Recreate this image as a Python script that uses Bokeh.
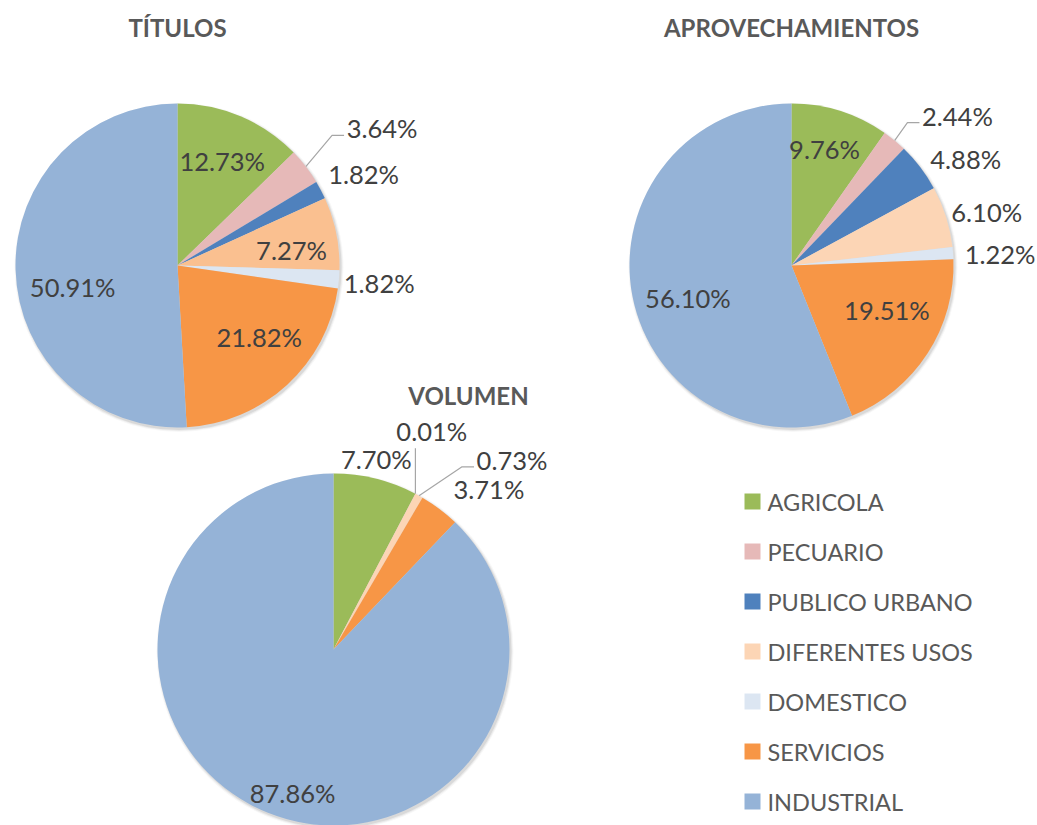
import math
from bokeh.plotting import figure
from bokeh.models import Range1d, ColumnDataSource
from bokeh.core.properties import value
from bokeh.embed import file_html
from bokeh.resources import INLINE

# ---------------- data ----------------
categories = ["AGRICOLA", "PECUARIO", "PUBLICO URBANO", "DIFERENTES USOS",
              "DOMESTICO", "SERVICIOS", "INDUSTRIAL"]
titulos = [12.73, 3.64, 1.82, 7.27, 1.82, 21.82, 50.91]
aprovechamientos = [9.76, 2.44, 4.88, 6.10, 1.22, 19.51, 56.10]
volumen = [7.70, 0.01, 0.0, 0.73, 0.0, 3.71, 87.86]

# ---------------- styles ----------------
colors = ["#9BBB59", "#E6B9B8", "#4F81BD", "#FCD5B5", "#DCE6F2", "#F79646", "#95B3D7"]
titulos_colors = ["#9BBB59", "#E6B9B8", "#4F81BD", "#FAC090", "#DCE6F2", "#F79646", "#95B3D7"]
FONT = "Lato"
LABEL_COLOR = "#404040"
TITLE_COLOR = "#595959"
LEADER_COLOR = "#A6A6A6"
LABEL_SIZE = 25.5

# ---------------- layout ----------------
W, H = 1037, 825


def Y(py):
    return H - py


# label layout per slice: (radius factor, angle nudge in degrees, leader type)
pies = [
    dict(title="TÍTULOS", values=titulos, colors=titulos_colors, cx=177, cy=265, r=162,
         title_pos=(177, 27),
         layout=[(0.70, 0.3, None), (1.52, 3.8, "elbow"), (1.28, 1.6, None), (0.71, 3.9, None),
                 (1.25, 0.1, None), (0.67, -6.3, None), (0.66, -9.7, None)]),
    dict(title="APROVECHAMIENTOS", values=aprovechamientos, colors=colors, cx=791, cy=265, r=162,
         title_pos=(791, 27),
         layout=[(0.75, -1.8, None), (1.38, 8.4, "elbow"), (1.26, 5.9, None), (1.25, 2.1, None),
                 (1.29, 1.1, None), (0.65, -7.9, None), (0.67, -6.4, None)]),
    dict(title="VOLUMEN", values=volumen, colors=colors, cx=333, cy=649, r=176,
         title_pos=(468, 395),
         layout=[(1.11, -1.2, None), (1.36, -3.5, "vertical"), None, (1.48, 14.2, "elbow"),
                 None, (1.27, 7.0, None), (0.85, -6.0, None)]),
]

p = figure(width=W, height=H, x_range=Range1d(0, W), y_range=Range1d(0, H),
           output_backend="svg", toolbar_location=None, min_border=0,
           x_axis_location=None, y_axis_location=None)
p.grid.visible = False
p.outline_line_color = None
p.background_fill_color = "white"
p.border_fill_color = "white"

for pie in pies:
    cx, cy, r = pie["cx"], pie["cy"], pie["r"]
    vals = pie["values"]
    total = sum(vals)

    # soft shadow
    for i, a in enumerate([0.07, 0.05, 0.03]):
        p.circle(x=[cx + 1.5], y=[Y(cy + 2)], radius=r + 0.5 + i, fill_color="black",
                 fill_alpha=a, line_color=None)

    xs, ys, starts, ends, cols = [], [], [], [], []
    lab_x, lab_y, lab_t = [], [], []
    cum = 0.0
    for i, v in enumerate(vals):
        t0 = cum / total * 360.0
        cum += v
        t1 = cum / total * 360.0
        if v <= 0:
            continue
        xs.append(cx)
        ys.append(Y(cy))
        starts.append(math.radians(90 - t0))
        ends.append(math.radians(90 - t1))
        cols.append(pie["colors"][i])

        lay = pie["layout"][i]
        if lay is None:
            continue
        k, nudge, leader = lay
        mid = (t0 + t1) / 2.0
        ang = math.radians(mid + nudge)
        lx = cx + k * r * math.sin(ang)
        ly = cy - k * r * math.cos(ang)
        lab_x.append(lx)
        lab_y.append(Y(ly))
        lab_t.append(f"{v:.2f}%")

        if leader:
            am = math.radians(mid)
            sx = cx + r * math.sin(am)
            sy = cy - r * math.cos(am)
            if leader == "elbow":
                ex, ey = lx - 38, ly + 7
                p.line(x=[sx, ex - 12, ex], y=[Y(sy), Y(ey), Y(ey)],
                       line_color=LEADER_COLOR, line_width=1.2)
            else:
                p.line(x=[sx, sx], y=[Y(sy), Y(ly + 17)],
                       line_color=LEADER_COLOR, line_width=1.2)

    src = ColumnDataSource(dict(x=xs, y=ys, start=starts, end=ends, color=cols))
    p.wedge(x="x", y="y", radius=r, start_angle="start", end_angle="end",
            direction="clock", fill_color="color", line_color=None, source=src)

    p.text(x=lab_x, y=lab_y, text=lab_t, text_font=value(FONT),
           text_font_size=f"{LABEL_SIZE}px",
           text_color=LABEL_COLOR, text_align="center", text_baseline="middle")

    tx, ty = pie["title_pos"]
    p.text(x=[tx], y=[Y(ty)], text=[pie["title"]], text_font=value(FONT),
           text_font_size="24px", text_font_style="bold", text_color=TITLE_COLOR,
           text_align="center", text_baseline="middle")

# legend
leg_x, leg_y0, leg_dy = 752, 501, 50
lx_, ly_ = [], []
for i, c in enumerate(categories):
    lx_.append(leg_x)
    ly_.append(Y(leg_y0 + i * leg_dy))
p.rect(x=lx_, y=ly_, width=16, height=16, fill_color=colors, line_color=None)
p.text(x=[leg_x + 15] * len(categories), y=ly_,
       text=categories, text_font=value(FONT), text_font_size="23.5px", text_color=TITLE_COLOR,
       text_align="left", text_baseline="middle")

open("out.html", "w").write(file_html(p, INLINE))
